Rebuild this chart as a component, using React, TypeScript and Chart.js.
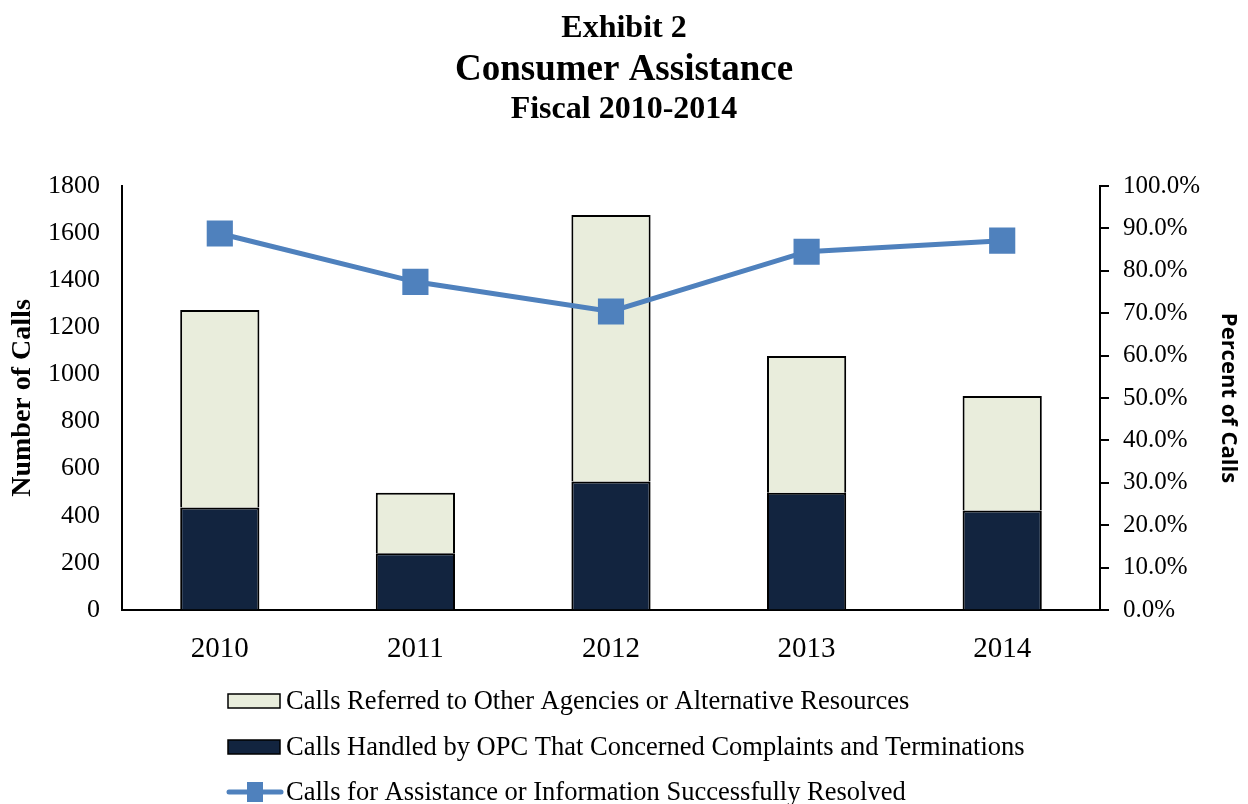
import React, { useEffect, useRef } from "react";
import { Chart, registerables } from "chart.js";

Chart.register(...registerables);

const years = ["2010", "2011", "2012", "2013", "2014"];
const handledCalls = [435, 241, 545, 498, 422];
const referredCalls = [839, 257, 1132, 580, 486];
const resolvedPct = [88.8, 77.4, 70.4, 84.5, 87.1];

const titleLines = ["Exhibit 2", "Consumer Assistance", "Fiscal 2010-2014"];
const legendLabels = [
  "Calls Referred to Other Agencies or Alternative Resources",
  "Calls Handled by OPC That Concerned Complaints and Terminations",
  "Calls for Assistance or Information Successfully Resolved",
];

const LIGHT = "#E9EDDC";
const DARK = "#12243F";
const BLUE = "#4F81BD";
const SERIF = "'Liberation Serif', 'Times New Roman', serif";

const W = 1248;
const H = 804;

const overlayPlugin = {
  id: "overlay",
  afterDraw(chart: any) {
    const ctx = chart.ctx;
    const cx = chart.width / 2;
    ctx.save();
    ctx.fillStyle = "#000";
    ctx.textAlign = "center";
    ctx.textBaseline = "alphabetic";
    const tfonts = [
      { size: 32, y: 37 },
      { size: 37, y: 80 },
      { size: 32, y: 118 },
    ];
    titleLines.forEach((t, i) => {
      ctx.font = `bold ${tfonts[i].size}px ${SERIF}`;
      ctx.fillText(t, cx, tfonts[i].y);
    });

    // legend
    const lx = 228;
    const rows = [701, 747, 792];
    ctx.textAlign = "left";
    ctx.textBaseline = "middle";
    ctx.font = `26.5px ${SERIF}`;
    legendLabels.forEach((label, i) => {
      const y = rows[i];
      if (i < 2) {
        ctx.fillStyle = i === 0 ? LIGHT : DARK;
        ctx.fillRect(lx, y - 7, 52, 14);
        ctx.lineWidth = 1.5;
        ctx.strokeStyle = "#000";
        ctx.strokeRect(lx, y - 7, 52, 14);
      } else {
        ctx.strokeStyle = BLUE;
        ctx.lineWidth = 5;
        ctx.lineCap = "round";
        ctx.beginPath();
        ctx.moveTo(lx + 1, y);
        ctx.lineTo(lx + 53, y);
        ctx.stroke();
        ctx.fillStyle = BLUE;
        ctx.fillRect(lx + 27 - 8, y - 10, 16, 20);
      }
      ctx.fillStyle = "#000";
      ctx.fillText(label, lx + 58, y + 1);
    });
    ctx.restore();
  },
};

export default function App() {
  const ref = useRef<HTMLCanvasElement>(null);

  useEffect(() => {
    document.body.style.margin = "0";
    document.body.style.overflow = "hidden";
    if (!ref.current) return;
    const chart = new Chart(ref.current, {
      type: "bar",
      data: {
        labels: years,
        datasets: [
          {
            type: "line",
            label: legendLabels[2],
            data: resolvedPct,
            yAxisID: "y1",
            borderColor: BLUE,
            backgroundColor: BLUE,
            borderWidth: 5,
            pointStyle: "rect",
            pointRadius: 18.5,
            pointBorderWidth: 0,
            pointBackgroundColor: BLUE,
            order: 0,
          } as any,
          {
            type: "bar",
            label: legendLabels[1],
            data: handledCalls,
            yAxisID: "y",
            backgroundColor: DARK,
            borderColor: "#000",
            borderWidth: 2,
            borderSkipped: "bottom",
            stack: "s",
            order: 1,
            barPercentage: 0.405,
            categoryPercentage: 1,
          },
          {
            type: "bar",
            label: legendLabels[0],
            data: referredCalls,
            yAxisID: "y",
            backgroundColor: LIGHT,
            borderColor: "#000",
            borderWidth: 2,
            borderSkipped: "bottom",
            stack: "s",
            order: 1,
            barPercentage: 0.405,
            categoryPercentage: 1,
          },
        ],
      },
      options: {
        animation: false,
        responsive: false,
        maintainAspectRatio: false,
        layout: { padding: { top: 186, bottom: 134, left: 8, right: 8 } },
        plugins: {
          legend: { display: false },
          title: { display: false },
          tooltip: { enabled: false },
        },
        scales: {
          x: {
            stacked: true,
            grid: { display: false },
            border: { display: true, color: "#000", width: 2 },
            ticks: {
              color: "#000",
              font: { family: SERIF, size: 29 },
              padding: 14,
            },
            afterFit: (s: any) => {
              s.height = 60;
            },
          },
          y: {
            stacked: true,
            position: "left",
            min: 0,
            max: 1800,
            grid: { display: true, drawOnChartArea: false, drawTicks: false },
            border: { display: true, color: "#000", width: 2 },
            ticks: {
              stepSize: 200,
              color: "#000",
              font: { family: SERIF, size: 26 },
              padding: 22,
              callback: (v: any) => String(v),
            },
            title: {
              display: true,
              text: "Number of Calls",
              color: "#000",
              font: { family: SERIF, size: 28, weight: "bold", lineHeight: 1 },
              padding: { top: 1, bottom: 0 },
            },
            afterFit: (s: any) => {
              s.width = 114;
            },
          },
          y1: {
            position: "right",
            min: 0,
            max: 100,
            grid: {
              display: true,
              drawOnChartArea: false,
              drawTicks: true,
              tickLength: 9,
              color: "#000",
              lineWidth: 2,
            },
            border: { display: true, color: "#000", width: 2 },
            ticks: {
              stepSize: 10,
              color: "#000",
              font: { family: SERIF, size: 25 },
              padding: 14,
              callback: (v: any) => Number(v).toFixed(1) + "%",
            },
            title: {
              display: true,
              text: "Percent of Calls",
              color: "#000",
              font: { family: "'Open Sans', 'Noto Sans', sans-serif", size: 22, weight: "bold", lineHeight: 1 },
              padding: { top: 1, bottom: 0 },
            },
            afterFit: (s: any) => {
              s.width = 140;
            },
          },
        },
      },
      plugins: [overlayPlugin],
    });
    return () => chart.destroy();
  }, []);

  return (
    <div style={{ width: W, height: H }}>
      <canvas ref={ref} width={W} height={H} style={{ display: "block" }} />
    </div>
  );
}
